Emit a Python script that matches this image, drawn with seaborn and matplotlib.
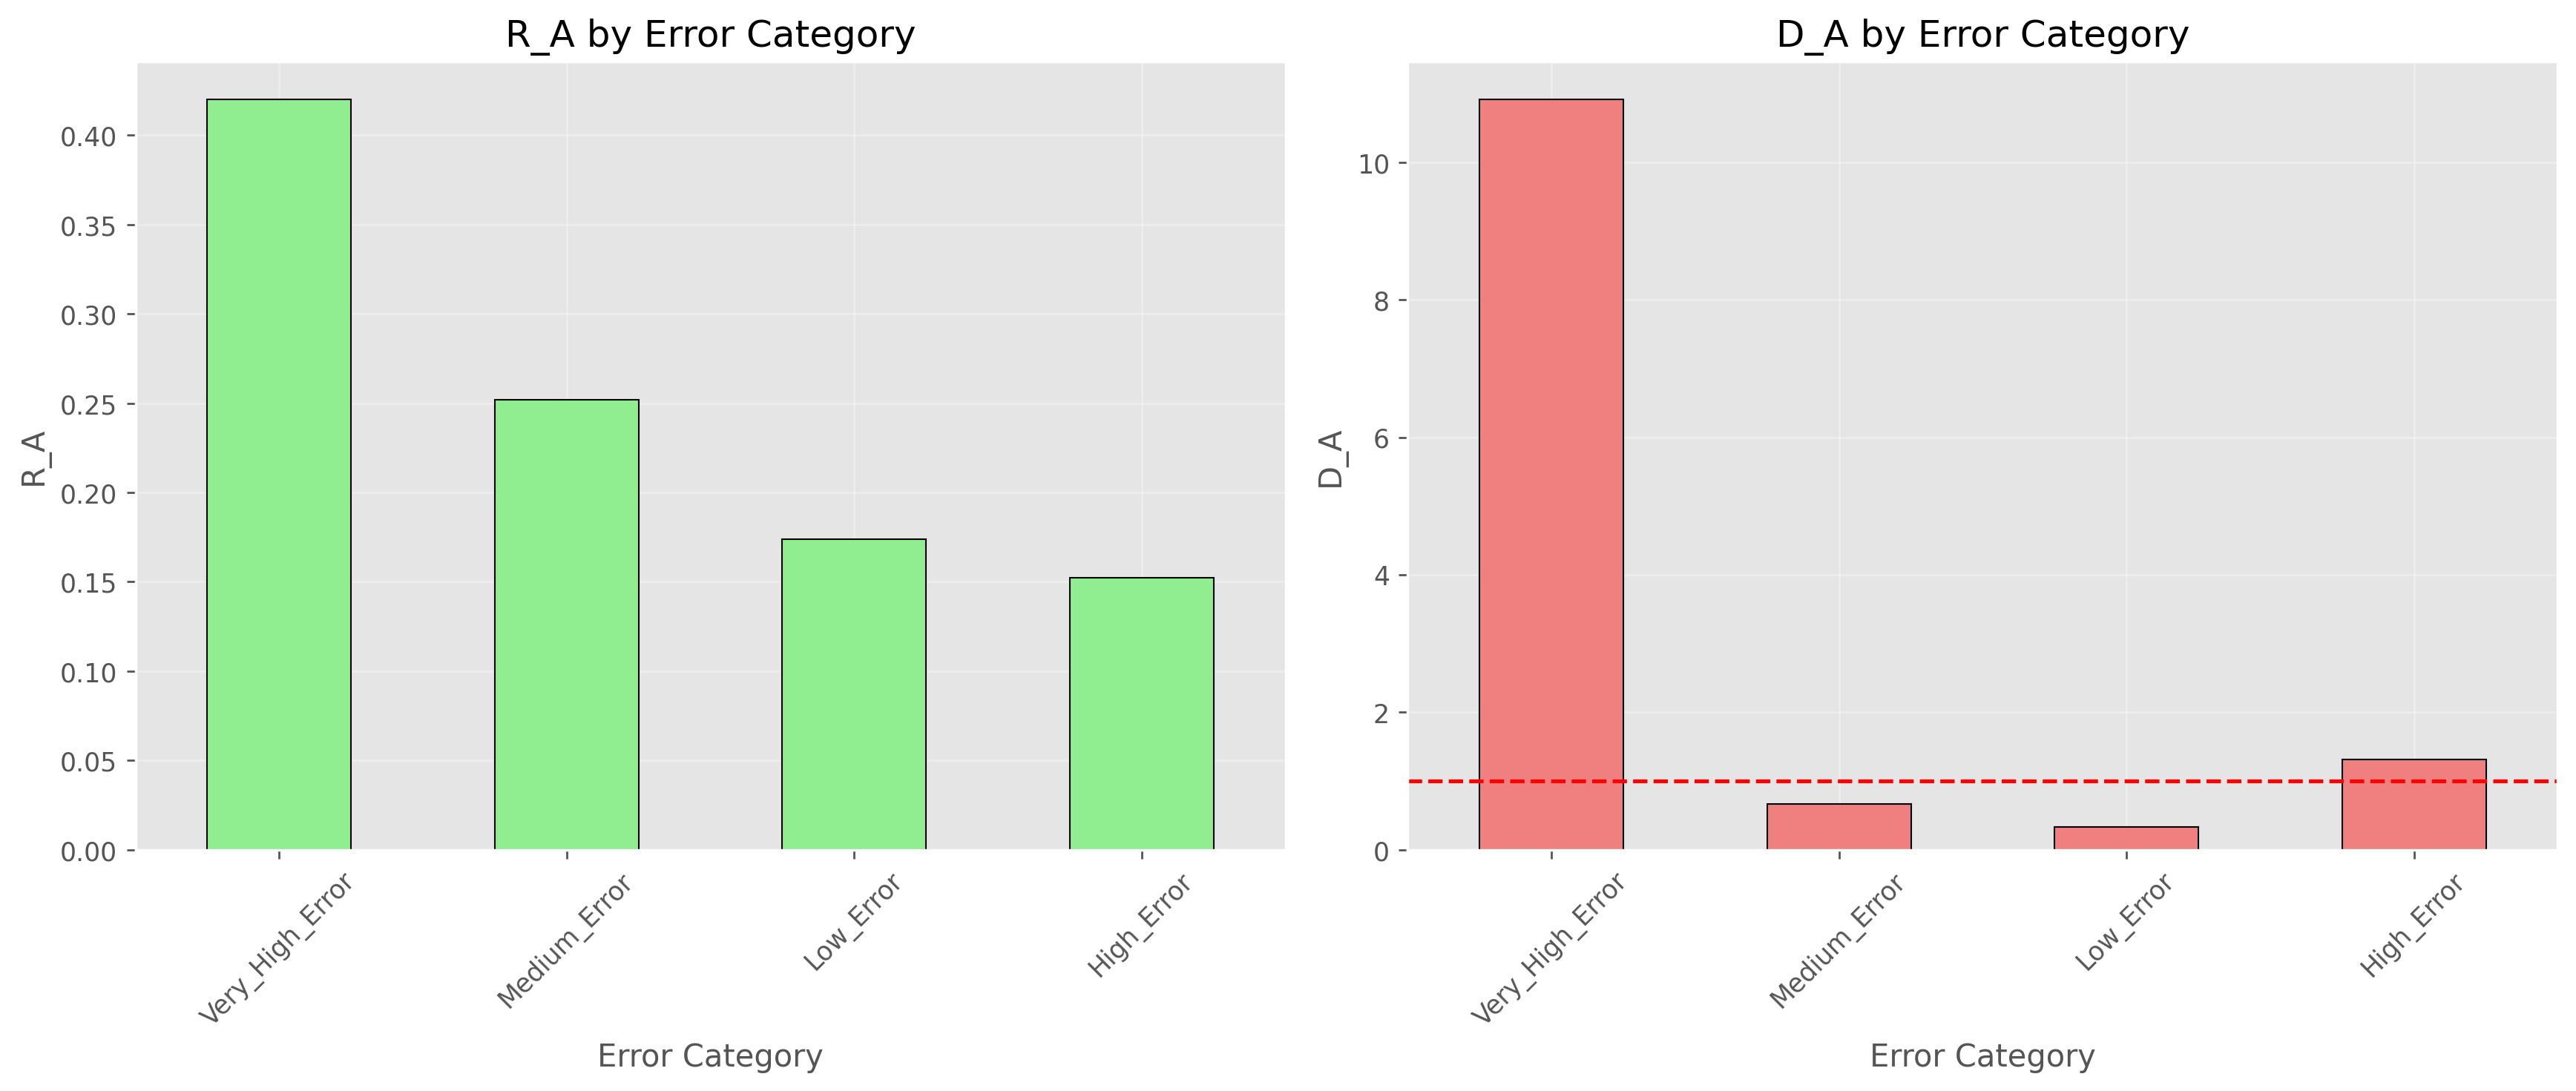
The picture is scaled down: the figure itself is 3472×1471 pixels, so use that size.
import pandas as pd
import matplotlib
matplotlib.use('Agg')
import matplotlib.pyplot as plt
import seaborn as sns

# Error categories in the order shown on the x-axis
categories = ['Very_High_Error', 'Medium_Error', 'Low_Error', 'High_Error']

# Metric values per category
r_a_values = [0.4203, 0.2519, 0.1739, 0.1524]
d_a_values = [10.92, 0.67, 0.33, 1.31]

df = pd.DataFrame({'Error Category': categories, 'R_A': r_a_values, 'D_A': d_a_values})

plt.style.use('ggplot')
fig, axes = plt.subplots(1, 2, figsize=(14, 6))

# Left panel: R_A
sns.barplot(data=df, x='Error Category', y='R_A', ax=axes[0], color='lightgreen',
            saturation=1, width=0.5, edgecolor='black', linewidth=0.6)
axes[0].set_title('R_A by Error Category')
axes[0].set_ylabel('R_A')
axes[0].set_xlabel('Error Category')
axes[0].tick_params(axis='x', rotation=45)
axes[0].grid(True, alpha=0.3)

# Right panel: D_A with reference line at 1
sns.barplot(data=df, x='Error Category', y='D_A', ax=axes[1], color='lightcoral',
            saturation=1, width=0.5, edgecolor='black', linewidth=0.6)
axes[1].axhline(y=1, color='red', linestyle='--', linewidth=1.5)
axes[1].set_title('D_A by Error Category')
axes[1].set_ylabel('D_A')
axes[1].set_xlabel('Error Category')
axes[1].tick_params(axis='x', rotation=45)
axes[1].grid(True, alpha=0.3)

for ax in axes:
    ax.set_axisbelow(True)

plt.tight_layout()
plt.savefig('out.png', dpi=250, bbox_inches='tight')
